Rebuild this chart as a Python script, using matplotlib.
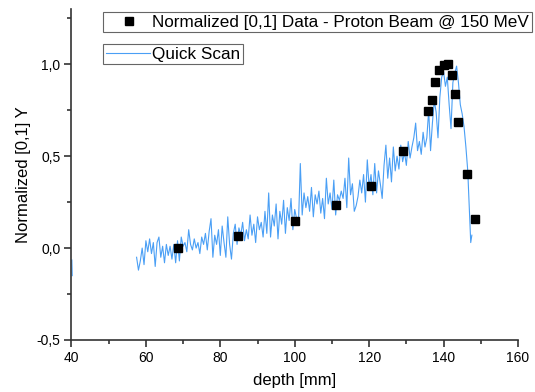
import numpy as np
import matplotlib
matplotlib.use("Agg")
import matplotlib.pyplot as plt
from matplotlib.ticker import MultipleLocator, FuncFormatter

# measured points (normalized)
data_depth = [68.6, 84.8, 100.1, 111.2, 120.6, 129.2, 135.7, 136.8, 137.8,
              138.9, 140.0, 141.3, 142.2, 143.2, 144.0, 146.3, 148.4]
data_y = [0.0, 0.065, 0.147, 0.235, 0.338, 0.527, 0.745, 0.805, 0.905,
          0.969, 0.995, 1.0, 0.944, 0.84, 0.684, 0.404, 0.156]

# quick scan (a short clipped piece at the left edge, then the main scan)
scan_depth = [40.1, 40.2, 50.0,
              57.5, 58.0, 58.5, 59.0, 59.5, 60.0, 60.5, 61.0, 61.5, 62.0,
              62.5, 63.0, 63.5, 64.0, 64.5, 65.0, 65.5, 66.0, 66.5, 67.0,
              67.5, 68.0, 68.5, 69.0, 69.5, 70.0, 70.5, 71.0, 71.5, 72.0,
              72.5, 73.0, 73.5, 74.0, 74.5, 75.0, 75.5, 76.0, 76.5, 77.0,
              77.5, 78.0, 78.5, 79.0, 79.5, 80.0, 80.5, 81.0, 81.5, 82.0,
              82.5, 83.0, 83.5, 84.0, 84.5, 85.0, 85.5, 86.0, 86.5, 87.0,
              87.5, 88.0, 88.5, 89.0, 89.5, 90.0, 90.5, 91.0, 91.5, 92.0,
              92.5, 93.0, 93.5, 94.0, 94.5, 95.0, 95.5, 96.0, 96.5, 97.0,
              97.5, 98.0, 98.5, 99.0, 99.5, 100.0, 100.5, 101.0, 101.5, 102.0,
              102.5, 103.0, 103.5, 104.0, 104.5, 105.0, 105.5, 106.0, 106.5, 107.0,
              107.5, 108.0, 108.5, 109.0, 109.5, 110.0, 110.5, 111.0, 111.5, 112.0,
              112.5, 113.0, 113.5, 114.0, 114.5, 115.0, 115.5, 116.0, 116.5, 117.0,
              117.5, 118.0, 118.5, 119.0, 119.5, 120.0, 120.5, 121.0, 121.5, 122.0,
              122.5, 123.0, 123.5, 124.0, 124.5, 125.0, 125.5, 126.0, 126.5, 127.0,
              127.5, 128.0, 128.5, 129.0, 129.5, 130.0, 130.5, 131.0, 131.5, 132.0,
              132.5, 133.0, 133.5, 134.0, 134.5, 135.0, 135.5, 136.0, 136.5, 137.0,
              137.5, 138.0, 138.5, 139.0, 139.5, 140.0, 140.5, 141.0, 141.5, 142.0,
              142.5, 143.0, 143.5, 144.0, 144.5, 145.0, 145.5, 146.0, 146.5, 147.0,
              147.3, 147.6]
scan_y = [-0.065, -0.15, np.nan,
          -0.05, -0.12, -0.07, 0.00, -0.09, 0.04, -0.02, 0.05, -0.03, 0.03,
          -0.10, 0.03, 0.06, -0.05, 0.01, -0.08, 0.02, -0.04, 0.01, -0.06,
          0.02, -0.08, 0.04, -0.07, 0.06, 0.01, 0.03, -0.02, 0.10, 0.02,
          -0.01, 0.05, 0.00, 0.03, -0.03, 0.06, 0.02, 0.08, -0.01, 0.09,
          0.16, -0.05, 0.07, 0.02, 0.10, -0.04, 0.12, 0.03, -0.05, 0.17,
          0.02, -0.06, 0.08, 0.13, 0.02, 0.11, 0.07, 0.14, 0.04, 0.10,
          0.05, 0.18, 0.07, 0.13, 0.03, 0.17, 0.10, 0.14, 0.06, 0.20,
          0.08, 0.30, 0.06, 0.18, 0.12, 0.24, 0.05, 0.20, 0.13, 0.26,
          0.08, 0.22, 0.15, 0.27, 0.10, 0.21, 0.16, 0.13, 0.46, 0.18,
          0.30, 0.22, 0.28, 0.20, 0.33, 0.17, 0.29, 0.24, 0.31, 0.19,
          0.27, 0.16, 0.38, 0.24, 0.30, 0.21, 0.37, 0.18, 0.29, 0.26,
          0.31, 0.27, 0.38, 0.22, 0.49, 0.29, 0.35, 0.20, 0.23, 0.28,
          0.37, 0.30, 0.40, 0.25, 0.48, 0.33, 0.40, 0.29, 0.46, 0.30,
          0.42, 0.35, 0.27, 0.45, 0.56, 0.38, 0.49, 0.36, 0.55, 0.42,
          0.50, 0.43, 0.56, 0.47, 0.52, 0.45, 0.58, 0.49, 0.55, 0.60,
          0.68, 0.53, 0.58, 0.51, 0.63, 0.55, 0.60, 0.75, 0.53, 0.68,
          0.80, 0.74, 0.60, 0.82, 0.93, 0.96, 0.88, 0.93, 0.78, 0.65,
          0.90, 0.95, 0.99, 0.90, 0.78, 0.73, 0.66, 0.55, 0.42, 0.17,
          0.03, 0.07]

points_label = "Normalized [0,1] Data - Proton Beam @ 150 MeV"
scan_label = "Quick Scan"

plt.rcParams["font.family"] = ["Liberation Sans", "DejaVu Sans"]

fig = plt.figure(figsize=(5.35, 3.92), dpi=100)
ax = fig.add_axes([0.1336, 0.1327, 0.8346, 0.844])

scan, = ax.plot(scan_depth, scan_y, color="#4a9ff5", lw=0.8, label=scan_label)
pts, = ax.plot(data_depth, data_y, "s", color="black", ms=5.5, ls="none",
               label=points_label)

ax.set_xlim(40, 160)
ax.set_ylim(-0.5, 1.3)
ax.xaxis.set_major_locator(MultipleLocator(20))
ax.xaxis.set_minor_locator(MultipleLocator(10))
ax.yaxis.set_major_locator(MultipleLocator(0.5))
ax.yaxis.set_minor_locator(MultipleLocator(0.25))
ax.yaxis.set_major_formatter(FuncFormatter(lambda v, p: f"{v:.1f}".replace(".", ",")))

for s in ("top", "right"):
    ax.spines[s].set_visible(False)
for s in ("left", "bottom"):
    ax.spines[s].set_color("#333333")
    ax.spines[s].set_linewidth(1.2)
ax.tick_params(which="major", direction="out", length=5, width=1.2,
               color="#333333", labelsize=10, pad=3)
ax.tick_params(which="minor", direction="out", length=3, width=1.2, color="#333333")

ax.set_xlabel("depth [mm]", fontsize=12, labelpad=6)
ax.set_ylabel("Normalized [0,1] Y", fontsize=12, labelpad=4)

leg_kw = dict(loc="upper left", fontsize=12.3, fancybox=False, framealpha=1,
              edgecolor="#666666", borderpad=0.15, borderaxespad=0)
leg1 = ax.legend(handles=[pts], bbox_to_anchor=(0.0705, 0.991),
                 handlelength=2.7, handletextpad=0.05, **leg_kw)
leg1.get_frame().set_linewidth(0.8)
leg1.set_clip_on(False)
ax.add_artist(leg1)
leg2 = ax.legend(handles=[scan], bbox_to_anchor=(0.0705, 0.894),
                 handlelength=2.6, handletextpad=0.15, **leg_kw)
leg2.get_frame().set_linewidth(0.8)

fig.savefig("out.png", dpi=100)
